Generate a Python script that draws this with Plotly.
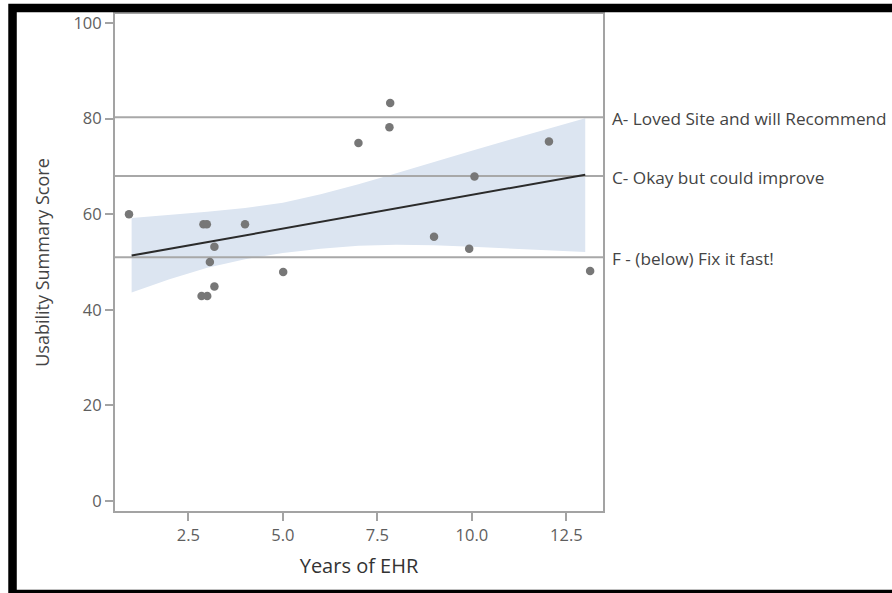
import numpy as np
import plotly.graph_objects as go

# Survey responses: years each site has used its EHR (dots are jittered
# horizontally for visibility) and the site's usability summary score.
years_shown = [0.93, 2.90, 2.99, 4.00, 3.19, 3.07, 5.01, 3.19, 2.85, 3.00,
               7.00, 7.84, 7.82, 12.04, 10.07, 9.00, 9.93, 13.13]
usability_score = [60.0, 57.9, 57.9, 57.9, 53.2, 50.0, 47.9, 44.9, 42.9, 42.9,
                   74.9, 83.3, 78.2, 75.2, 67.9, 55.3, 52.8, 48.1]

# 95% confidence band of the regression, by whole year
ci_years = [1, 2, 3, 4, 5, 6, 7, 8, 9, 10, 11, 12, 13]
ci_lower = [43.6, 46.4, 48.8, 50.6, 51.9, 52.8, 53.4, 53.6, 53.5, 53.2, 52.9, 52.5, 52.1]
ci_upper = [59.2, 59.8, 60.5, 61.3, 62.4, 64.2, 66.3, 68.6, 71.0, 73.3, 75.6, 77.8, 80.1]

# Grade cut-offs and their captions
grade_cutoffs = [80.3, 68.0, 51.0]
grade_labels = ["A- Loved Site and will Recommend",
                "C- Okay but could improve",
                "F - (below) Fix it fast!"]

x_ticks = [2.5, 5.0, 7.5, 10.0, 12.5]
y_ticks = [0, 20, 40, 60, 80, 100]

X_RANGE = [0.56, 13.47]
Y_RANGE = [-2.1, 101.9]

FONT = "Open Sans"
AXIS_GREY = "#a3a3a3"

# Linear fit on the reported (whole) years
years = np.round(years_shown)
slope, intercept = np.polyfit(years, usability_score, 1)
fit_x = np.array([years.min(), years.max()])
fit_y = intercept + slope * fit_x

fig = go.Figure()

# confidence band
fig.add_trace(go.Scatter(
    x=ci_years + ci_years[::-1],
    y=ci_upper + ci_lower[::-1],
    fill="toself", fillcolor="#dce5f1",
    line=dict(width=0), mode="lines", hoverinfo="skip", showlegend=False,
))

# grade reference lines
for cut in grade_cutoffs:
    fig.add_trace(go.Scatter(
        x=X_RANGE, y=[cut, cut], mode="lines",
        line=dict(color="#a8a8a8", width=2),
        hoverinfo="skip", showlegend=False,
    ))

# regression line
fig.add_trace(go.Scatter(
    x=fit_x, y=fit_y, mode="lines",
    line=dict(color="#2b2b2b", width=2), showlegend=False,
))

# observations
fig.add_trace(go.Scatter(
    x=years_shown, y=usability_score, mode="markers",
    marker=dict(color="#777777", size=8.5, line=dict(width=0)),
    showlegend=False,
))

# captions to the right of the plot
for cut, text in zip(grade_cutoffs, grade_labels):
    fig.add_annotation(
        x=1, xref="paper", y=cut, yref="y", text=text,
        xanchor="left", yanchor="middle", xshift=7, yshift=-1,
        showarrow=False, font=dict(family=FONT, size=17.2, color="#444444"),
    )

# black frame around the figure
fig.add_shape(
    type="rect", xref="paper", yref="paper",
    x0=-0.210, x1=1.65, y0=-0.167, y1=1.0121,
    line=dict(color="black", width=8.5), fillcolor="rgba(0,0,0,0)",
)

fig.update_xaxes(
    range=X_RANGE, tickvals=x_ticks, ticktext=[f"{v:.1f}" for v in x_ticks],
    showgrid=False, zeroline=False,
    showline=True, linecolor=AXIS_GREY, linewidth=2, mirror=True,
    ticks="outside", ticklen=8, tickwidth=2, tickcolor=AXIS_GREY,
    tickfont=dict(family=FONT, size=16.5, color="#5e5e5e"),
    title=dict(text="Years of EHR", standoff=14,
               font=dict(family=FONT, size=20, color="#333333")),
)
fig.update_yaxes(
    range=Y_RANGE, tickvals=y_ticks,
    showgrid=False, zeroline=False,
    showline=True, linecolor=AXIS_GREY, linewidth=2, mirror=True,
    ticks="outside", ticklen=8, tickwidth=2, tickcolor=AXIS_GREY,
    tickfont=dict(family=FONT, size=16.5, color="#5e5e5e"),
    title=dict(text="Usability Summary Score", standoff=19,
               font=dict(family=FONT, size=18, color="#444444")),
)

fig.update_layout(
    width=892, height=593,
    margin=dict(l=115, r=289, t=14, b=82, autoexpand=False),
    paper_bgcolor="white", plot_bgcolor="white",
    showlegend=False,
)

fig.write_html("out.html")
